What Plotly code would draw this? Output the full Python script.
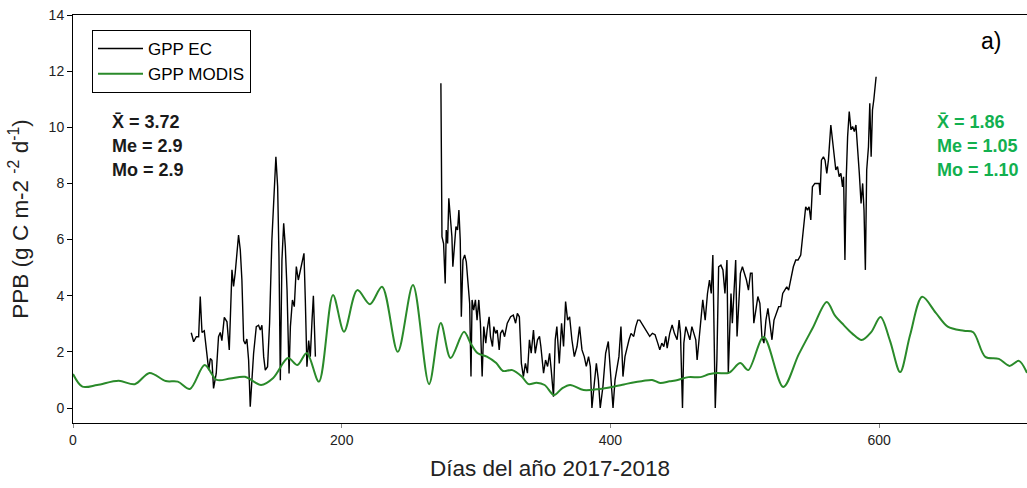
import plotly.graph_objects as go

# ---------------- data ----------------
ec_day = [
    88.0, 89.8, 91.8, 93.5, 94.7, 96.0, 97.7, 99.7, 101.0, 102.2, 103.4, 104.6, 106.6, 108.3, 109.6, 110.8,
    112.6, 114.6, 116.3, 118.3, 119.5, 120.7, 123.2, 124.5, 125.7, 127.0, 128.2, 129.4, 130.7, 131.9, 133.2,
    134.4, 136.4, 138.1, 139.4, 140.6, 141.9, 143.1, 144.8, 146.3, 148.0, 149.8, 151.0, 152.3, 153.3, 154.3,
    155.5, 156.8, 158.0, 159.3, 160.8, 161.8, 163.3, 164.7, 166.2, 167.7, 169.2, 170.4, 171.9, 172.9, 174.1,
    175.4, 176.6, 177.9, 178.9, 180.4,
    None,
    273.8, 274.1, 274.6, 275.8, 277.0, 277.8, 278.8, 279.7, 280.7, 282.0, 282.7, 283.7, 285.0, 286.2, 287.2,
    288.2, 289.0, 290.2, 291.5, 292.7, 294.0, 295.2, 296.2, 297.0, 298.2, 299.5, 300.7, 302.0, 303.2, 304.5,
    305.7, 307.2, 308.2, 309.7, 310.7, 312.2, 313.2, 314.5, 315.7, 317.2, 318.2, 319.7, 321.2, 323.2, 325.7,
    327.7, 329.4, 330.7, 332.2, 333.7, 335.2, 336.7, 338.2, 339.7,
    341.0, 342.7, 344.0, 345.7, 347.2, 348.2, 350.2, 351.7, 353.2, 354.7, 355.9, 357.6, 358.9, 360.1, 361.9,
    363.6, 365.1, 366.6, 368.1, 369.6, 371.3, 373.1, 375.1, 377.0, 378.8, 380.5, 382.0, 383.7, 385.0, 386.2,
    388.0, 389.5, 391.0, 392.4, 394.4, 396.4, 398.4, 399.9, 401.9, 403.4, 404.9, 406.3, 407.8, 409.3, 410.8,
    412.3, 413.8, 415.3, 417.3, 418.8, 420.3, 421.8, 423.8, 425.8, 427.3, 429.2, 431.2, 433.2, 435.2, 436.7,
    438.2, 439.7, 441.2, 442.2, 444.1, 445.9, 447.6, 449.6, 451.1, 452.1, 453.6, 454.6, 456.1, 457.6, 459.1,
    460.6, 462.0, 463.5, 464.5, 466.0,
    468.7, 470.5, 472.2, 473.7, 475.0, 476.2, 477.2, 478.0, 479.2, 480.5, 482.2, 483.7, 485.2, 486.7, 487.7,
    488.7, 489.7, 490.7, 491.7, 493.2, 494.2, 495.4, 496.7, 498.2, 499.7, 501.2, 502.7, 504.2, 505.4, 506.7,
    508.2, 509.7, 511.2, 512.7, 514.2, 515.7, 517.2, 518.7, 520.2, 521.7, 523.7, 525.2, 526.7, 528.2, 529.7,
    531.2, 532.6, 534.1, 536.1, 537.9, 539.6, 541.6, 542.8, 544.1, 545.3, 546.6, 547.8, 549.1, 550.3, 552.1,
    554.0, 555.3, 556.0, 557.0, 558.5, 559.7, 561.0, 562.2, 564.0, 565.2, 566.5, 567.7, 569.0, 570.2, 571.5,
    572.7, 573.5, 574.5, 575.5, 576.5, 577.7, 579.0, 580.2, 581.5, 582.7, 584.0, 585.2, 586.5, 587.7, 588.7,
    589.7, 590.7, 592.0, 593.0, 594.0, 595.0, 596.0, 597.7,
]
ec_gpp = [
    2.68, 2.36, 2.54, 2.54, 3.97, 2.69, 2.75, 1.83, 1.35, 1.76, 1.70, 0.70, 1.23, 2.54, 2.69, 2.40,
    3.23, 3.07, 2.07, 4.92, 4.33, 4.80, 6.16, 5.63, 4.56, 2.40, 2.28, 2.46, 1.70, 0.05, 1.23,
    1.94, 2.90, 2.95, 2.78, 2.95, 1.83, 1.35, 1.47, 3.02, 5.98, 7.65, 8.95, 7.88, 5.39, 0.99,
    5.27, 6.58, 5.75, 4.20, 1.23, 2.90, 3.85, 3.61, 5.04, 4.56, 4.92, 5.27, 5.51, 3.85, 1.47,
    2.40, 1.83, 3.13, 4.00, 1.83,
    None,
    11.57, 8.24, 6.10, 5.86, 4.44, 6.34, 5.86, 7.47, 6.70, 6.10, 5.03, 5.63, 6.46, 6.34, 7.05,
    5.98, 3.25, 5.27, 5.45, 5.21, 4.56, 3.73, 1.12, 3.85, 3.49, 3.85, 3.13, 3.85, 3.02, 1.12,
    2.90, 2.31, 2.78, 3.25, 2.54, 2.19, 2.90, 2.66, 2.78, 2.07, 2.66, 2.78, 2.54, 3.02, 3.25,
    3.31, 3.02, 3.37, 3.25, 1.59, 1.12, 1.59, 1.24, 2.43,
    1.95, 2.78, 1.95, 2.43, 2.55, 2.19, 1.24, 1.71, 1.48, 1.95, 1.36, 0.40, 2.43, 2.90, 1.59,
    3.02, 2.19, 3.79, 3.13, 3.25, 2.43, 1.83, 2.19, 2.90, 2.07, 1.83, 1.48, 1.83, 1.48, 0.0,
    0.89, 1.59, 1.0, 0.0, 0.77, 1.95, 2.37, 1.24, 0.0, 1.0, 1.48, 1.83, 2.90, 1.12, 1.83,
    2.19, 2.43, 2.66, 2.55, 2.90, 3.13, 3.13, 2.96, 2.84, 2.66, 2.55, 2.66, 2.61, 2.31, 2.07,
    2.31, 2.19, 2.55, 2.13, 2.66, 2.96, 2.66, 2.43, 3.13, 2.66, 0.0, 2.31, 2.90, 2.66, 2.43,
    2.90, 2.66, 2.43, 1.71, 2.43,
    3.85, 3.13, 4.08, 4.56, 4.08, 5.45, 2.31, 0.0, 1.71, 5.03, 5.09, 4.92, 4.08, 5.27, 1.24,
    2.90, 4.08, 3.02, 3.85, 5.27, 2.55, 3.85, 4.80, 5.03, 4.80, 4.56, 4.20, 4.80, 4.80, 3.02,
    3.49, 3.97, 3.73, 2.55, 2.31, 3.13, 3.55, 2.90, 2.43, 3.13, 3.37, 3.61, 3.61, 4.08, 4.20,
    4.32, 4.20, 4.56, 5.03, 5.27, 5.27, 5.45, 5.98, 6.70, 7.17, 7.05, 7.17, 6.70, 7.88, 8.00,
    8.00, 8.00, 7.59, 8.83, 8.95, 8.83, 8.36, 8.83, 10.08, 9.55, 8.95, 8.48, 8.60, 8.24, 8.36,
    7.88, 8.24, 5.27, 8.24, 9.67, 10.56, 9.91, 10.03, 9.85, 10.08, 9.30, 8.36, 7.29, 8.00, 7.05,
    4.92, 8.48, 9.30, 10.86, 8.95, 10.62, 10.98, 11.80,
]

modis_day = [
    0, 7, 18, 34, 46, 57, 69, 78, 87, 98, 107, 117, 128, 140, 149, 160, 167, 174, 183, 193.5,
    201.7, 211.6, 221, 230, 241.7, 253, 265, 273.7, 281, 291, 296, 301, 308, 315, 320, 327, 334,
    339, 345, 351, 358, 364, 370, 380, 392, 401, 410, 418, 424, 431, 437, 444, 450, 458, 467,
    473, 479, 488, 496.6, 502.5, 514, 528.6, 540, 550.5, 561, 567, 573.5, 580, 587, 594, 601,
    608, 615.6, 623, 632, 642, 651, 663, 670, 679, 689, 697, 704, 710,
]
modis_gpp = [
    1.21, 0.76, 0.82, 0.97, 0.85, 1.25, 0.96, 0.94, 0.68, 1.53, 1.0, 1.05, 1.11, 0.82, 1.07, 1.78,
    1.53, 1.96, 0.94, 4.03, 2.72, 4.2, 3.7, 4.32, 2.0, 4.38, 0.85, 3.03, 1.78, 2.72, 2.3, 1.96,
    1.83, 1.6, 1.32, 1.35, 1.12, 0.85, 0.9, 0.82, 0.46, 0.7, 0.82, 0.64, 0.68, 0.75, 0.84, 0.92,
    0.96, 1.0, 0.89, 0.95, 1.0, 1.1, 1.1, 1.2, 1.25, 1.25, 1.6, 1.35, 2.53, 0.75, 1.9, 2.85,
    3.78, 3.3, 2.96, 2.65, 2.42, 2.7, 3.24, 2.4, 1.28, 2.6, 3.96, 3.4, 2.9, 2.75, 2.7, 1.82,
    1.75, 1.5, 1.68, 1.25,
]

x_ticks = [0, 200, 400, 600]
y_ticks = [0, 2, 4, 6, 8, 10, 12, 14]

stats_ec = ["X\u0304 = 3.72", "Me = 2.9", "Mo = 2.9"]
stats_modis = ["X\u0304 = 1.86", "Me = 1.05", "Mo = 1.10"]

# ---------------- figure ----------------
FONT = "Arial, Liberation Sans, sans-serif"
GREEN_LINE = "#2a8a2a"
GREEN_TEXT = "#12b04f"

fig = go.Figure()
fig.add_trace(go.Scatter(x=ec_day, y=ec_gpp, mode="lines", name="GPP EC",
                         line=dict(color="#000000", width=1.4), connectgaps=False))
fig.add_trace(go.Scatter(x=modis_day, y=modis_gpp, mode="lines", name="GPP MODIS",
                         line=dict(color=GREEN_LINE, width=2, shape="spline", smoothing=0.9)))

ML, MR, MT, MB = 73, 0, 15, 65
W, H = 1027, 488
pw, ph = W - ML - MR, H - MT - MB

def px2paper_x(px):
    return (px - ML) / pw

def py2paper_y(py):
    return (H - MB - py) / ph

annotations = []
for txt, yy in zip(stats_ec, [121.7, 145.5, 169.5]):
    annotations.append(dict(text=f"<b>{txt}</b>", x=px2paper_x(110), y=py2paper_y(yy),
                            xref="paper", yref="paper", xanchor="left", yanchor="middle",
                            showarrow=False, font=dict(family=FONT, size=18, color="#1a1a1a")))
for txt, yy in zip(stats_modis, [121.7, 146, 170]):
    annotations.append(dict(text=f"<b>{txt}</b>", x=px2paper_x(935), y=py2paper_y(yy),
                            xref="paper", yref="paper", xanchor="left", yanchor="middle",
                            showarrow=False, font=dict(family=FONT, size=18, color=GREEN_TEXT)))
annotations.append(dict(text="a)", x=px2paper_x(991), y=py2paper_y(41), xref="paper", yref="paper",
                        xanchor="center", yanchor="middle", showarrow=False,
                        font=dict(family=FONT, size=23, color="#000000")))

fig.update_layout(
    width=W, height=H,
    margin=dict(l=ML, r=MR, t=MT, b=MB, pad=0),
    paper_bgcolor="white", plot_bgcolor="white",
    font=dict(family=FONT, color="#222222"),
    showlegend=True,
    legend=dict(x=px2paper_x(92), y=py2paper_y(30), xanchor="left", yanchor="top",
                bgcolor="white", bordercolor="#000000", borderwidth=1,
                font=dict(family=FONT, size=17, color="#000000"),
                tracegroupgap=0, itemwidth=45),
    annotations=annotations,
    xaxis=dict(range=[0, 710], tickvals=x_ticks, ticks="outside", ticklen=4, tickcolor="#888888",
               showline=True, linecolor="#000000", linewidth=1, mirror=True,
               showgrid=False, zeroline=False,
               tickfont=dict(family=FONT, size=14, color="#222222"),
               title=dict(text="Días del año 2017-2018", standoff=13,
                          font=dict(family=FONT, size=22.5, color="#222222"))),
    yaxis=dict(range=[-0.534, 14], tickvals=y_ticks, ticks="outside", ticklen=5, tickcolor="#000000",
               showline=True, linecolor="#000000", linewidth=1, mirror=False,
               showgrid=False, zeroline=False,
               tickfont=dict(family=FONT, size=14, color="#222222"),
               title=dict(text="PPB (g C m-2 <sup>-2</sup> d<sup>-1</sup>)", standoff=13,
                          font=dict(family=FONT, size=22.5, color="#222222"))),
)

fig.write_html("out.html")
